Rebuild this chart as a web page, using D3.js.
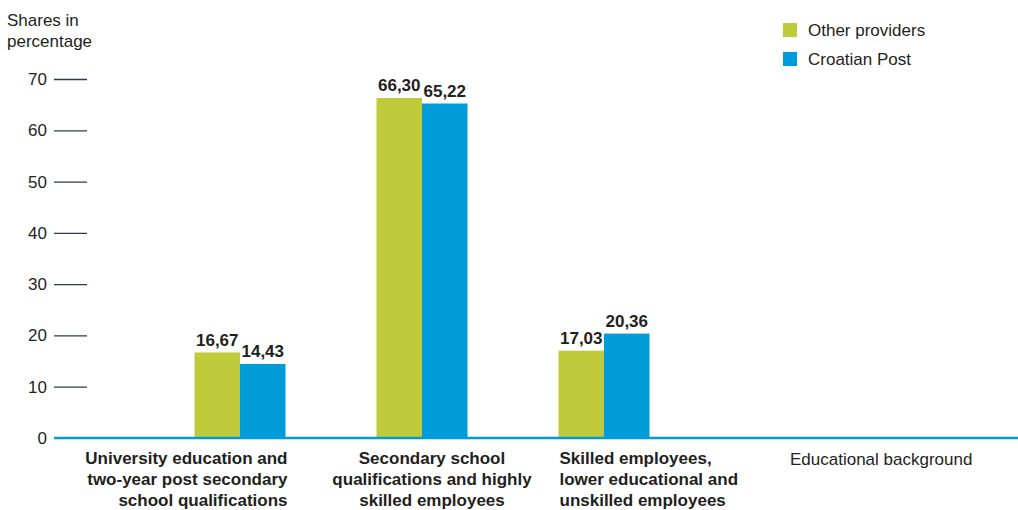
<!DOCTYPE html>
<html><head><meta charset="utf-8">
<script src="https://cdn.jsdelivr.net/npm/d3@7"></script>
<style>
body{margin:0;background:#fff;}
text{font-family:"Liberation Sans",Arial,Helvetica,sans-serif;fill:#231f20;}
</style></head>
<body><svg id="c" width="1018" height="510"></svg>
<script>
const categories = [
  ["University education and","two-year post secondary","school qualifications"],
  ["Secondary school","qualifications and highly","skilled employees"],
  ["Skilled employees,","lower educational and","unskilled employees"]
];
const seriesNames = ["Other providers","Croatian Post"];
const otherProviders = [16.67, 66.30, 17.03];
const croatianPost = [14.43, 65.22, 20.36];
const yTicks = [0,10,20,30,40,50,60,70];
const colors = ["#c0cb3c","#009bd9"];
const yTitle = ["Shares in","percentage"];
const xTitle = "Educational background";

const FS = "17px";
const svg = d3.select("#c");
const catIdx = categories.map((d,i)=>i);
const x = d3.scaleBand().domain(catIdx).range([149,695]).paddingInner(0.5).paddingOuter(0.25);
const xs = d3.scaleBand().domain(seriesNames).range([0,x.bandwidth()]);
const y = d3.scaleLinear().domain([0,70]).range([438,79]);
const fmt = v => d3.format(".2f")(v).replace(".",",");

// y axis ticks
const ya = svg.append("g").attr("transform","translate(87,0)")
  .call(d3.axisLeft(y).tickValues(yTicks).tickSize(33).tickPadding(7).tickFormat(d3.format("d")));
ya.select(".domain").remove();
ya.selectAll(".tick line").attr("stroke","#2b3a4a").attr("stroke-width",1.3);
ya.selectAll(".tick text").style("font-size",FS).attr("fill","#231f20");
ya.select(".tick:first-of-type line").remove();

// y title
svg.append("text").attr("x",7).attr("y",26).style("font-size",FS)
  .selectAll("tspan").data(yTitle).join("tspan").attr("x",7).attr("dy",(d,i)=>i?21:0).text(d=>d);

// bars
const data = catIdx.map(i=>[ {s:seriesNames[0],v:otherProviders[i],c:colors[0]}, {s:seriesNames[1],v:croatianPost[i],c:colors[1]} ]);
const g = svg.selectAll(".grp").data(data).join("g").attr("transform",(d,i)=>`translate(${x(i)},0)`);
g.selectAll("rect").data(d=>d).join("rect")
  .attr("x",d=>xs(d.s)).attr("width",xs.bandwidth())
  .attr("y",d=>y(d.v)).attr("height",d=>y(0)-y(d.v)).attr("fill",d=>d.c);
g.selectAll("text.val").data(d=>d).join("text").attr("class","val")
  .attr("x",d=>xs(d.s)+xs.bandwidth()/2).attr("y",d=>y(d.v)-7)
  .attr("text-anchor","middle").style("font-size",FS).style("font-weight","bold").text(d=>fmt(d.v));

// baseline
svg.append("line").attr("x1",54).attr("x2",1018).attr("y1",y(0)).attr("y2",y(0))
  .attr("stroke","#009bd9").attr("stroke-width",2.5);

// category labels
const anchors = ["end","middle","start"];
const lab = svg.selectAll(".cat").data(categories).join("text").attr("class","cat")
  .style("font-size",FS).style("font-weight","bold")
  .attr("text-anchor",(d,i)=>anchors[i])
  .attr("transform",(d,i)=>{
    const xx = i===0 ? x(i)+x.bandwidth()+2 : i===1 ? x(i)+x.bandwidth()/2 + 10 : x(i)+1;
    return `translate(${xx},464)`;});
lab.selectAll("tspan").data(d=>d).join("tspan").attr("x",0).attr("dy",(d,i)=>i?21:0).text(d=>d);

// x title
svg.append("text").attr("x",790).attr("y",465).style("font-size",FS).text(xTitle);

// legend
const lg = svg.selectAll(".lg").data(seriesNames).join("g").attr("class","lg")
  .attr("transform",(d,i)=>`translate(783,${23+i*29})`);
lg.append("rect").attr("width",14).attr("height",14).attr("fill",(d,i)=>colors[i]);
lg.append("text").attr("x",25).attr("y",13).style("font-size",FS).text(d=>d);
</script></body></html>
